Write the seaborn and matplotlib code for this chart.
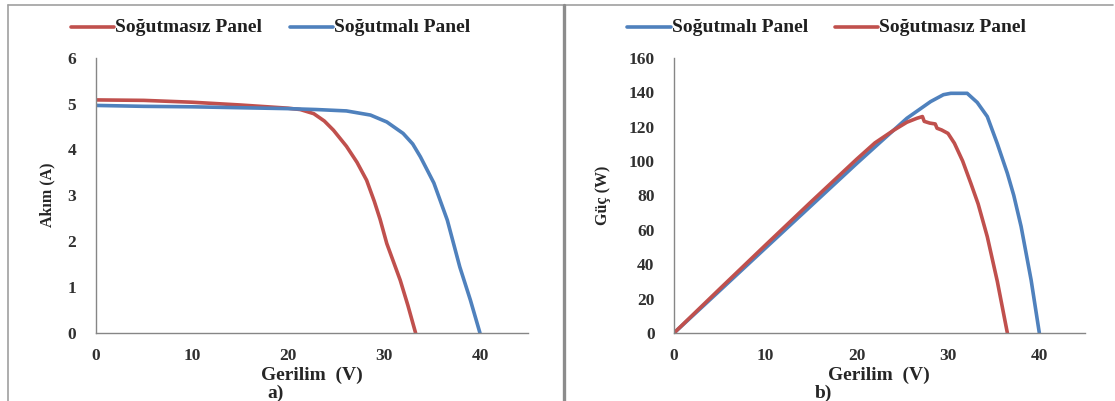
import numpy as np
import pandas as pd
import matplotlib
matplotlib.use("Agg")
import matplotlib.pyplot as plt
from matplotlib.lines import Line2D
import seaborn as sns

# ---- Data ----
# I-V curves
iv_unc_v = [0, 5, 10, 15, 20, 21.3, 22.7, 23.8, 24.75, 26.1, 27.2, 28.2, 29.0, 29.6, 30.3, 31.0, 31.7, 32.5, 33.3]
iv_unc_i = [5.08, 5.07, 5.03, 4.97, 4.90, 4.87, 4.78, 4.62, 4.42, 4.07, 3.72, 3.33, 2.87, 2.48, 1.95, 1.55, 1.15, 0.60, 0.0]
iv_cool_v = [0, 5, 10, 15, 20, 23, 26.1, 28.6, 30.3, 32.0, 33.0, 33.8, 35.2, 36.6, 37.9, 39.0, 40.0]
iv_cool_i = [4.96, 4.94, 4.93, 4.91, 4.89, 4.87, 4.84, 4.75, 4.60, 4.35, 4.12, 3.84, 3.27, 2.46, 1.44, 0.72, 0.0]

# P-V curves
pv_cool_v = [0, 5, 10, 15, 20, 22.5, 25.5, 28.1, 29.5, 30.3, 32.1, 33.2, 34.3, 35.4, 36.5, 37.2, 38.0, 39.1, 40.0]
pv_cool_p = [0, 24.6, 49.3, 73.9, 98.5, 110.5, 124.8, 134.5, 138.5, 139.3, 139.3, 134.0, 125.8, 110.0, 92.8, 80.0, 62.0, 30.8, 0.0]
pv_unc_v = [0, 5, 10, 15, 20, 22.0, 24.1, 25.5, 26.6, 27.2, 27.4, 28.0, 28.6, 28.8, 29.3, 30.0, 30.7, 31.6, 32.5, 33.3, 34.3, 35.4, 36.5]
pv_unc_p = [0, 25.6, 51.0, 76.2, 101.0, 110.5, 118.0, 122.5, 124.8, 125.8, 123.0, 122.0, 121.5, 119.0, 118.0, 116.0, 110.3, 100.0, 87.0, 75.0, 56.0, 30.0, 0.0]

lbl_unc = "Soğutmasız Panel"
lbl_cool = "Soğutmalı Panel"
RED = "#C0504D"
BLUE = "#4F81BD"

sns.set_style("white")
plt.rcParams["font.family"] = ["Liberation Serif", "DejaVu Serif"]

fig = plt.figure(figsize=(11.15, 4.01), dpi=100)
W, H = 1115, 401

def axes_px(x0, x1, ytop, ybot):
    return fig.add_axes([x0 / W, 1 - ybot / H, (x1 - x0) / W, (ybot - ytop) / H])

ax1 = axes_px(95.7, 528, 57.7, 333)
ax2 = axes_px(674, 1085, 57.7, 333)

df_iv_unc = pd.DataFrame({"V": iv_unc_v, "I": iv_unc_i})
df_iv_cool = pd.DataFrame({"V": iv_cool_v, "I": iv_cool_i})
df_pv_cool = pd.DataFrame({"V": pv_cool_v, "P": pv_cool_p})
df_pv_unc = pd.DataFrame({"V": pv_unc_v, "P": pv_unc_p})

lw = 2.6
sns.lineplot(data=df_iv_unc, x="V", y="I", ax=ax1, color=RED, lw=lw, sort=False, label=lbl_unc)
sns.lineplot(data=df_iv_cool, x="V", y="I", ax=ax1, color=BLUE, lw=lw, sort=False, label=lbl_cool)
sns.lineplot(data=df_pv_cool, x="V", y="P", ax=ax2, color=BLUE, lw=lw, sort=False, label=lbl_cool)
sns.lineplot(data=df_pv_unc, x="V", y="P", ax=ax2, color=RED, lw=lw, sort=False, label=lbl_unc)

ax1.set_xlim(0, 45)
ax1.set_ylim(0, 6)
ax1.set_xticks([0, 10, 20, 30, 40])
ax1.set_yticks(range(0, 7))
ax2.set_xlim(0, 45)
ax2.set_ylim(0, 160)
ax2.set_xticks([0, 10, 20, 30, 40])
ax2.set_yticks(range(0, 161, 20))

spine_c = "#868686"
for ax in (ax1, ax2):
    for s in ("top", "right"):
        ax.spines[s].set_visible(False)
    for s in ("left", "bottom"):
        ax.spines[s].set_color(spine_c)
        ax.spines[s].set_linewidth(1.0)
    ax.tick_params(axis="both", direction="out", length=5, width=1.0, color=spine_c,
                   labelsize=12.5, labelcolor="#303030")
    ax.tick_params(axis="x", pad=6)
    ax.tick_params(axis="y", pad=9)
    for t in ax.get_xticklabels() + ax.get_yticklabels():
        t.set_fontweight("bold")
    ax.set_xlabel("")
    ax.set_ylabel("")
    ax.get_legend().remove()
    ax.set_facecolor("white")

# axis labels
fig.text(312 / W, 1 - 375 / H, "Gerilim  (V)", ha="center", va="center", fontsize=14, fontweight="bold")
fig.text(879 / W, 1 - 375 / H, "Gerilim  (V)", ha="center", va="center", fontsize=14, fontweight="bold")
fig.text(276 / W, 1 - 393 / H, "a)", ha="center", va="center", fontsize=14, fontweight="bold")
fig.text(823 / W, 1 - 393 / H, "b)", ha="center", va="center", fontsize=14, fontweight="bold")
fig.text(47 / W, 1 - 195 / H, "Akım (A)", ha="center", va="center", rotation=90, fontsize=11.5, fontweight="bold")
fig.text(603 / W, 1 - 195 / H, "Güç (W)", ha="center", va="center", rotation=90, fontsize=11.5, fontweight="bold")

# legends (custom positions)
def legend_item(x0, x1, tx, color, text):
    y = 1 - 27 / H
    fig.add_artist(Line2D([x0 / W, x1 / W], [y, y], color=color, lw=lw, transform=fig.transFigure))
    fig.text(tx / W, y, text, ha="left", va="center", fontsize=14, fontweight="bold", color="#202020")

legend_item(71, 114, 115, RED, lbl_unc)
legend_item(290, 333, 334, BLUE, lbl_cool)
legend_item(627, 671, 672, BLUE, lbl_cool)
legend_item(835, 878, 879, RED, lbl_unc)

# panel frames
frame_c = "#a0a0a0"
fig.add_artist(Line2D([8 / W, 1113 / W], [1 - 5 / H, 1 - 5 / H], color=frame_c, lw=1.2, transform=fig.transFigure))
fig.add_artist(Line2D([8 / W, 8 / W], [0, 1 - 5 / H], color=frame_c, lw=1.2, transform=fig.transFigure))
fig.add_artist(Line2D([563.5 / W, 563.5 / W], [0, 1 - 5 / H], color="#8c8c8c", lw=2.4, transform=fig.transFigure))

fig.savefig("out.png", dpi=100, facecolor="white")
